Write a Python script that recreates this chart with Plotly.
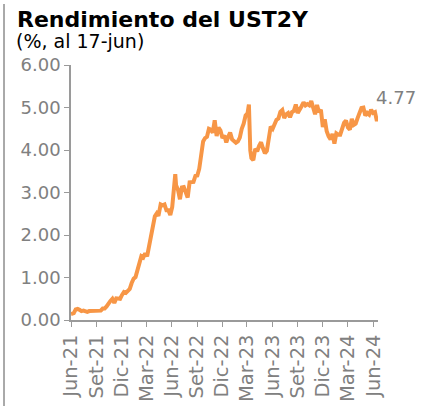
import plotly.graph_objects as go

dates = [
    "2021-06-01", "2021-06-04", "2021-06-11", "2021-06-18", "2021-06-25",
    "2021-07-02", "2021-07-09", "2021-07-16", "2021-07-23", "2021-07-30",
    "2021-08-06", "2021-08-13", "2021-08-20", "2021-08-27",
    "2021-09-03", "2021-09-10", "2021-09-17", "2021-09-24",
    "2021-10-01", "2021-10-08", "2021-10-15", "2021-10-22", "2021-10-29",
    "2021-11-05", "2021-11-12", "2021-11-19", "2021-11-26",
    "2021-12-03", "2021-12-10", "2021-12-17", "2021-12-24", "2021-12-31",
    "2022-01-07", "2022-01-14", "2022-01-21", "2022-01-28",
    "2022-02-04", "2022-02-11", "2022-02-18", "2022-02-25",
    "2022-03-04", "2022-03-11", "2022-03-18", "2022-03-25",
    "2022-04-01", "2022-04-08", "2022-04-14", "2022-04-22", "2022-04-29",
    "2022-05-06", "2022-05-13", "2022-05-20", "2022-05-27",
    "2022-06-03", "2022-06-10", "2022-06-14", "2022-06-17", "2022-06-24",
    "2022-07-01", "2022-07-08", "2022-07-15", "2022-07-22", "2022-07-29",
    "2022-08-05", "2022-08-12", "2022-08-19", "2022-08-26",
    "2022-09-02", "2022-09-09", "2022-09-16", "2022-09-23", "2022-09-30",
    "2022-10-07", "2022-10-14", "2022-10-21", "2022-10-28",
    "2022-11-04", "2022-11-11", "2022-11-18", "2022-11-25",
    "2022-12-02", "2022-12-09", "2022-12-16", "2022-12-23", "2022-12-30",
    "2023-01-06", "2023-01-13", "2023-01-20", "2023-01-27",
    "2023-02-03", "2023-02-10", "2023-02-17", "2023-02-24",
    "2023-03-03", "2023-03-08", "2023-03-10", "2023-03-13", "2023-03-17", "2023-03-24", "2023-03-31",
    "2023-04-07", "2023-04-14", "2023-04-21", "2023-04-28",
    "2023-05-05", "2023-05-12", "2023-05-19", "2023-05-26",
    "2023-06-02", "2023-06-09", "2023-06-16", "2023-06-23", "2023-06-30",
    "2023-07-07", "2023-07-14", "2023-07-21", "2023-07-28",
    "2023-08-04", "2023-08-11", "2023-08-18", "2023-08-25",
    "2023-09-01", "2023-09-08", "2023-09-15", "2023-09-22", "2023-09-29",
    "2023-10-06", "2023-10-13", "2023-10-20", "2023-10-27",
    "2023-11-03", "2023-11-10", "2023-11-17", "2023-11-24",
    "2023-12-01", "2023-12-08", "2023-12-15", "2023-12-22", "2023-12-29",
    "2024-01-05", "2024-01-12", "2024-01-19", "2024-01-26",
    "2024-02-02", "2024-02-09", "2024-02-16", "2024-02-23",
    "2024-03-01", "2024-03-08", "2024-03-15", "2024-03-22", "2024-03-29",
    "2024-04-05", "2024-04-12", "2024-04-19", "2024-04-26",
    "2024-05-03", "2024-05-10", "2024-05-17", "2024-05-24", "2024-05-31",
    "2024-06-07", "2024-06-14", "2024-06-17",
]
yields = [
    0.14, 0.15, 0.16, 0.25, 0.26,
    0.24, 0.21, 0.22, 0.20, 0.19,
    0.21, 0.21, 0.22, 0.21,
    0.21, 0.21, 0.22, 0.27,
    0.27, 0.32, 0.40, 0.45, 0.50,
    0.40, 0.51, 0.51, 0.50,
    0.59, 0.66, 0.64, 0.69, 0.73,
    0.87, 0.97, 1.01, 1.17,
    1.31, 1.50, 1.47, 1.57,
    1.50, 1.75, 1.94, 2.27,
    2.44, 2.51, 2.45, 2.72, 2.70,
    2.72, 2.58, 2.58, 2.47,
    2.66, 3.06, 3.43, 3.17, 3.06,
    2.84, 3.12, 3.13, 3.00, 2.88,
    3.24, 3.25, 3.25, 3.39,
    3.40, 3.56, 3.87, 4.20, 4.28,
    4.31, 4.50, 4.48, 4.41,
    4.70, 4.33, 4.53, 4.46,
    4.28, 4.34, 4.18, 4.31, 4.41,
    4.25, 4.22, 4.17, 4.20,
    4.29, 4.50, 4.62, 4.81,
    4.86, 5.07, 4.59, 3.99, 3.81, 3.76, 4.03,
    3.97, 4.10, 4.18, 4.04,
    3.92, 3.98, 4.28, 4.55,
    4.50, 4.59, 4.71, 4.74, 4.90,
    4.94, 4.75, 4.84, 4.87,
    4.77, 4.89, 4.92, 5.07,
    4.87, 4.98, 5.03, 5.12, 5.05,
    5.08, 5.05, 5.15, 5.00,
    4.84, 5.06, 4.89, 4.95,
    4.54, 4.72, 4.44, 4.32, 4.25,
    4.38, 4.15, 4.39, 4.36,
    4.36, 4.48, 4.64, 4.69,
    4.53, 4.48, 4.73, 4.59, 4.62,
    4.75, 4.88, 4.99, 5.00,
    4.81, 4.87, 4.83, 4.95, 4.87,
    4.89, 4.68, 4.77,
]

tick_dates = [
    "2021-06-01", "2021-09-01", "2021-12-01", "2022-03-01", "2022-06-01",
    "2022-09-01", "2022-12-01", "2023-03-01", "2023-06-01", "2023-09-01",
    "2023-12-01", "2024-03-01", "2024-06-01",
]
tick_labels = [
    "Jun-21", "Set-21", "Dic-21", "Mar-22", "Jun-22", "Set-22", "Dic-22",
    "Mar-23", "Jun-23", "Set-23", "Dic-23", "Mar-24", "Jun-24",
]
y_ticks = [0, 1, 2, 3, 4, 5, 6]

title_text = "Rendimiento del UST2Y"
subtitle_text = "(%, al 17-jun)"
last_label = "4.77"

FONT = "Verdana, DejaVu Sans, sans-serif"
GRAY = "#808080"
AXIS = "#9a9a9a"

fig = go.Figure()
fig.add_trace(go.Scatter(
    x=dates, y=yields, mode="lines",
    line=dict(color="#F79646", width=4),
    hoverinfo="skip", showlegend=False,
))

W, H = 436, 412
L, R, T, B = 71, 58, 65, 92
pw, ph = W - L - R, H - T - B

def px_x(p):
    return (p - L) / pw

def px_y(p):
    return (H - B - p) / ph

fig.update_layout(
    width=W, height=H,
    margin=dict(l=L, r=R, t=T, b=B, autoexpand=False),
    paper_bgcolor="white", plot_bgcolor="white",
    font=dict(family=FONT, color=GRAY, size=18),
    xaxis=dict(
        range=["2021-06-01", "2024-06-18"],
        tickmode="array", tickvals=tick_dates, ticktext=tick_labels,
        tickangle=-90, ticks="outside", ticklen=5, tickcolor=AXIS,
        showline=True, linecolor=AXIS, linewidth=1.5,
        showgrid=False, zeroline=False, automargin=False,
        tickfont=dict(family=FONT, color=GRAY, size=19.5),
    ),
    yaxis=dict(
        range=[0, 6], tickmode="array", tickvals=y_ticks,
        tickformat=".2f", ticks="outside", ticklen=5, tickcolor=AXIS,
        showline=True, linecolor=AXIS, linewidth=1.5,
        showgrid=False, zeroline=False, automargin=False,
        tickfont=dict(family=FONT, color=GRAY, size=18),
    ),
    annotations=[
        dict(text="<b>" + title_text + "</b>", xref="paper", yref="paper",
             x=px_x(15), y=px_y(5), xanchor="left", yanchor="top",
             showarrow=False, font=dict(family=FONT, size=22, color="black")),
        dict(text=subtitle_text, xref="paper", yref="paper",
             x=px_x(14), y=px_y(28), xanchor="left", yanchor="top",
             showarrow=False, font=dict(family=FONT, size=19, color="black")),
        dict(text=last_label, x=dates[-1], y=yields[-1], xref="x", yref="y",
             xanchor="left", yanchor="bottom", xshift=-4, yshift=7,
             showarrow=False, font=dict(family=FONT, size=18, color=GRAY)),
    ],
    shapes=[
        dict(type="line", xref="paper", yref="paper",
             x0=px_x(4), x1=px_x(4), y0=px_y(406), y1=px_y(4),
             line=dict(color="#555555", width=1)),
    ],
)

fig.write_html("out.html", config={"displayModeBar": False},
               post_script="document.body.style.margin='0';")
